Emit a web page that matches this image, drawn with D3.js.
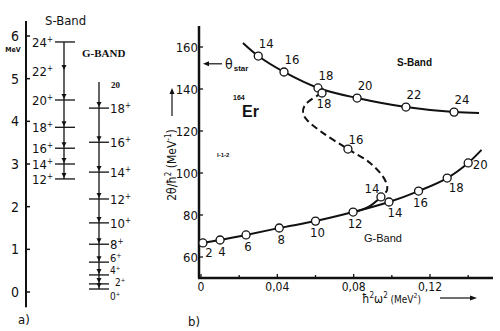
<!DOCTYPE html>
<html>
<head>
<meta charset="utf-8">
<script src="https://cdn.jsdelivr.net/npm/d3@7/dist/d3.min.js"></script>
<style>
  body { margin: 0; background: #fff; }
  svg { display: block; }
  text { fill: #111; }
</style>
</head>
<body>
<div id="chart"></div>
<script>
// ---- panel a) level scheme (MeV) ----
const sSpins = [24, 22, 20, 18, 16, 14, 12]
const sEnergies = [5.86, 5.18, 4.50, 3.86, 3.37, 3.00, 2.65]
const gSpins = [18, 16, 14, 12, 10, 8, 6, 4, 2, 0]
const gEnergies = [4.31, 3.51, 2.81, 2.18, 1.62, 1.12, 0.70, 0.40, 0.19, 0.07]
const gTopEnergy = 4.92
const energyTicks = [0, 1, 2, 3, 4, 5, 6]

// ---- panel b) moment of inertia vs rotational frequency ----
const gOmega = [0.001, 0.010, 0.0236, 0.041, 0.060, 0.0797, 0.0985, 0.114, 0.129, 0.140, 0.147]
const gTheta = [66.7, 68.1, 70.5, 73.8, 77.1, 81.4, 86.2, 91.4, 97.6, 104.8, 111]
const gLabels = ['2', '4', '6', '8', '10', '12', '14', '16', '18', '20', null]

const sOmega = [0.022, 0.030, 0.0435, 0.0613, 0.0818, 0.1074, 0.1326, 0.1457]
const sTheta = [161.9, 155.7, 148.1, 140.5, 135.7, 131.4, 129.0, 128.6]
const sLabels = [null, '14', '16', '18', '20', '22', '24', null]

// back-bending branch (dashed)
const bendOmega = [0.0634, 0.0545, 0.0535, 0.0556, 0.064, 0.077, 0.0886, 0.0964, 0.0975, 0.0943]
const bendTheta = [138.1, 132.4, 128.5, 125.2, 119.0, 111.4, 104.8, 96.7, 91.9, 88.6]
const bendPoints = [
  { omega: 0.0634, theta: 138.1, label: '18' },
  { omega: 0.077, theta: 111.4, label: '16' },
  { omega: 0.0943, theta: 88.6, label: '14' }
]
// short solid piece from the second 14 into the G-band
const joinOmega = [0.0943, 0.088, 0.080]
const joinTheta = [88.6, 84.0, 81.2]

const thetaTicks = [60, 80, 100, 120, 140, 160]
const omegaTicks = [0, 0.04, 0.08, 0.12]
const omegaMinor = [0.02, 0.06, 0.10, 0.14]
const thetaStar = 152

const W = 500
const H = 331
const font = "'DejaVu Sans Condensed', 'Liberation Sans Narrow', sans-serif"

const svg = d3
  .select('#chart')
  .append('svg')
  .attr('width', W)
  .attr('height', H)
  .style('font-family', font)

// ================= panel a =================
const eScale = d3.scaleLinear().domain([0, 6]).range([292, 36])
const axisX = 26
const sX = 64
const gX = 99

svg
  .append('line')
  .attr('x1', axisX)
  .attr('x2', axisX)
  .attr('y1', eScale(6.35))
  .attr('y2', eScale(-0.36))
  .attr('stroke', '#111')
  .attr('stroke-width', 2)

energyTicks.forEach(e => {
  svg
    .append('line')
    .attr('x1', axisX)
    .attr('x2', axisX + 4)
    .attr('y1', eScale(e))
    .attr('y2', eScale(e))
    .attr('stroke', '#111')
    .attr('stroke-width', 1.5)
  svg
    .append('text')
    .text(e)
    .attr('x', 15)
    .attr('y', eScale(e) + 5)
    .attr('text-anchor', 'middle')
    .style('font-size', '14px')
})

svg
  .append('text')
  .text('MeV')
  .attr('x', 13)
  .attr('y', 52)
  .attr('text-anchor', 'middle')
  .style('font-size', '7px')
  .style('font-weight', 'bold')

svg
  .append('text')
  .text('S-Band')
  .attr('x', 45)
  .attr('y', 25)
  .style('font-size', '13px')

svg
  .append('text')
  .text('G-BAND')
  .attr('x', 82)
  .attr('y', 57)
  .style('font-family', "'Liberation Serif', serif")
  .style('font-weight', 'bold')
  .style('font-size', '11px')

svg
  .append('text')
  .text('20')
  .attr('x', 111)
  .attr('y', 88)
  .style('font-family', "'Liberation Serif', serif")
  .style('font-weight', 'bold')
  .style('font-size', '9px')

function arrowDown(x, y) {
  svg
    .append('path')
    .attr('d', `M${x - 2.5},${y - 6} L${x + 2.5},${y - 6} L${x},${y - 1} Z`)
    .attr('fill', '#111')
}

function spinLabel(x, y, spin, anchor, size) {
  const t = svg
    .append('text')
    .attr('x', x)
    .attr('y', y)
    .attr('text-anchor', anchor)
    .style('font-size', size + 'px')
  t.append('tspan').text(spin)
  t.append('tspan')
    .text('+')
    .attr('dy', -size * 0.4)
    .style('font-size', Math.round(size * 0.6) + 'px')
}

// S band
svg
  .append('line')
  .attr('x1', sX)
  .attr('x2', sX)
  .attr('y1', eScale(sEnergies[0]))
  .attr('y2', eScale(sEnergies[sEnergies.length - 1]))
  .attr('stroke', '#111')
  .attr('stroke-width', 1.3)

sSpins.forEach((spin, i) => {
  const y = eScale(sEnergies[i])
  if (spin !== 22) {
    svg
      .append('line')
      .attr('x1', 55)
      .attr('x2', 75)
      .attr('y1', y)
      .attr('y2', y)
      .attr('stroke', '#111')
      .attr('stroke-width', 1.3)
  }
  if (i > 0) arrowDown(sX, y)
  spinLabel(53, y + 5, spin, 'end', 13)
})

// G band
svg
  .append('line')
  .attr('x1', gX)
  .attr('x2', gX)
  .attr('y1', eScale(gTopEnergy))
  .attr('y2', eScale(gEnergies[gEnergies.length - 1]))
  .attr('stroke', '#111')
  .attr('stroke-width', 1.3)

// low-lying labels are squeezed together as in the original figure
const gLabelPlace = { 6: [110, 0, 11], 4: [110, -1, 10], 2: [115, 2, 10], 0: [110, 11, 10] }
gSpins.forEach((spin, i) => {
  const y = eScale(gEnergies[i])
  svg
    .append('line')
    .attr('x1', 89)
    .attr('x2', 109)
    .attr('y1', y)
    .attr('y2', y)
    .attr('stroke', '#111')
    .attr('stroke-width', 1.3)
  arrowDown(gX, y)
  const p = gLabelPlace[spin] || [110, 5, 13]
  spinLabel(p[0], y + p[1], spin, 'start', p[2])
})

svg
  .append('text')
  .text('a)')
  .attr('x', 18)
  .attr('y', 324)
  .style('font-size', '13px')

// ================= panel b =================
const x = d3.scaleLinear().domain([0, 0.12]).range([201, 430])
const y = d3.scaleLinear().domain([60, 160]).range([257, 47])
const x0 = 199
const yBottom = y(50)

svg
  .append('line')
  .attr('x1', x0)
  .attr('x2', x0)
  .attr('y1', y(170))
  .attr('y2', yBottom)
  .attr('stroke', '#111')
  .attr('stroke-width', 2.5)

svg
  .append('line')
  .attr('x1', x0 - 1)
  .attr('x2', x(0.153))
  .attr('y1', yBottom)
  .attr('y2', yBottom)
  .attr('stroke', '#111')
  .attr('stroke-width', 2.5)

thetaTicks.forEach(t => {
  svg
    .append('line')
    .attr('x1', x0)
    .attr('x2', x0 + 4)
    .attr('y1', y(t))
    .attr('y2', y(t))
    .attr('stroke', '#111')
    .attr('stroke-width', 1.3)
  svg
    .append('text')
    .text(t)
    .attr('x', x0 - 1)
    .attr('y', y(t) + 5)
    .attr('text-anchor', 'end')
    .style('font-size', '13px')
})

omegaTicks.forEach(o => {
  svg
    .append('line')
    .attr('x1', x(o))
    .attr('x2', x(o))
    .attr('y1', yBottom)
    .attr('y2', yBottom - 4)
    .attr('stroke', '#111')
    .attr('stroke-width', 1.3)
  svg
    .append('text')
    .text(o === 0 ? '0' : d3.format('.2f')(o).replace('.', ','))
    .attr('x', x(o))
    .attr('y', yBottom + 13)
    .attr('text-anchor', 'middle')
    .style('font-size', '12px')
})

omegaMinor.forEach(o => {
  svg
    .append('line')
    .attr('x1', x(o))
    .attr('x2', x(o))
    .attr('y1', yBottom)
    .attr('y2', yBottom - 3)
    .attr('stroke', '#111')
    .attr('stroke-width', 1.3)
})

const line = d3
  .line()
  .x(d => x(d[0]))
  .y(d => y(d[1]))
  .curve(d3.curveCatmullRom)

svg
  .append('path')
  .attr('d', line(gOmega.map((o, i) => [o, gTheta[i]])))
  .attr('fill', 'none')
  .attr('stroke', '#111')
  .attr('stroke-width', 2)

svg
  .append('path')
  .attr('d', line(sOmega.map((o, i) => [o, sTheta[i]])))
  .attr('fill', 'none')
  .attr('stroke', '#111')
  .attr('stroke-width', 2)

svg
  .append('path')
  .attr('d', line(bendOmega.map((o, i) => [o, bendTheta[i]])))
  .attr('fill', 'none')
  .attr('stroke', '#111')
  .attr('stroke-width', 2)
  .attr('stroke-dasharray', '7,4')

svg
  .append('path')
  .attr('d', line(joinOmega.map((o, i) => [o, joinTheta[i]])))
  .attr('fill', 'none')
  .attr('stroke', '#111')
  .attr('stroke-width', 2)

function points(data, offsets) {
  data.forEach((d, i) => {
    if (d.label === null) return
    svg
      .append('circle')
      .attr('cx', x(d.omega))
      .attr('cy', y(d.theta))
      .attr('r', 4)
      .attr('fill', '#fff')
      .attr('stroke', '#111')
      .attr('stroke-width', 1.3)
    const off = offsets(d, i)
    svg
      .append('text')
      .text(d.label)
      .attr('x', x(d.omega) + off[0])
      .attr('y', y(d.theta) + off[1])
      .attr('text-anchor', 'middle')
      .style('font-size', '13px')
  })
}

points(
  gOmega.map((o, i) => ({ omega: o, theta: gTheta[i], label: gLabels[i] })),
  d => {
    if (d.label === '2') return [6, 14]
    if (d.label === '20') return [12, 6]
    if (d.label === '18') return [9, 14]
    if (d.label === '14') return [6, 15]
    return [2, 16]
  }
)

points(
  sOmega.map((o, i) => ({ omega: o, theta: sTheta[i], label: sLabels[i] })),
  () => [8, -8]
)

points(bendPoints, d => {
  if (d.label === '18') return [2, 15]
  if (d.label === '16') return [8, -5]
  return [-9, -4]
})

// band names and annotations
svg
  .append('text')
  .text('S-Band')
  .attr('x', 397)
  .attr('y', 66)
  .style('font-family', "'Liberation Sans', Arial, sans-serif")
  .style('font-weight', 'bold')
  .style('font-size', '10px')

svg
  .append('text')
  .text('G-Band')
  .attr('x', 364)
  .attr('y', 242)
  .style('font-family', "'Liberation Sans', Arial, sans-serif")
  .style('font-size', '11px')

svg
  .append('text')
  .text('164')
  .attr('x', 233)
  .attr('y', 100)
  .style('font-family', "'Liberation Sans', Arial, sans-serif")
  .style('font-weight', 'bold')
  .style('font-size', '7px')

svg
  .append('text')
  .text('Er')
  .attr('x', 242)
  .attr('y', 117)
  .style('font-family', "'Liberation Sans', Arial, sans-serif")
  .style('font-weight', 'bold')
  .style('font-size', '16px')

svg
  .append('text')
  .text('I-1-2')
  .attr('x', 217)
  .attr('y', 157)
  .style('font-family', "'Liberation Sans', Arial, sans-serif")
  .style('font-weight', 'bold')
  .style('font-size', '6px')

// theta_star marker
svg
  .append('line')
  .attr('x1', 222)
  .attr('x2', 206)
  .attr('y1', y(thetaStar))
  .attr('y2', y(thetaStar))
  .attr('stroke', '#111')
  .attr('stroke-width', 1.2)
svg
  .append('path')
  .attr('d', `M203,${y(thetaStar)} l6,-2.5 l0,5 Z`)
  .attr('fill', '#111')
const ts = svg
  .append('text')
  .attr('x', 225)
  .attr('y', y(thetaStar) + 5)
  .style('font-size', '14px')
ts.append('tspan').text('θ')
ts.append('tspan')
  .text('star')
  .attr('dy', 2)
  .attr('dx', 1)
  .style('font-size', '8px')
  .style('font-weight', 'bold')
  .style('font-family', "'Liberation Sans', Arial, sans-serif")

// y axis title with arrow
const yt = svg
  .append('text')
  .attr('transform', 'translate(176,165) rotate(-90)')
  .attr('text-anchor', 'middle')
  .style('font-size', '12px')
yt.append('tspan').text('2θ/ħ')
yt.append('tspan').text('2').attr('dy', -5).style('font-size', '8px')
yt.append('tspan').text(' (MeV').attr('dy', 5)
yt.append('tspan').text('-1').attr('dy', -5).style('font-size', '8px')
yt.append('tspan').text(')').attr('dy', 5)

svg
  .append('line')
  .attr('x1', 172)
  .attr('x2', 172)
  .attr('y1', 116)
  .attr('y2', 92)
  .attr('stroke', '#111')
  .attr('stroke-width', 1.2)
svg
  .append('path')
  .attr('d', 'M172,88 l-2.5,6 l5,0 Z')
  .attr('fill', '#111')

// x axis title with arrow
const xt = svg
  .append('text')
  .attr('x', 362)
  .attr('y', 303)
  .style('font-size', '12px')
xt.append('tspan').text('ħ')
xt.append('tspan').text('2').attr('dy', -5).style('font-size', '8px')
xt.append('tspan').text('ω').attr('dy', 5)
xt.append('tspan').text('2').attr('dy', -5).style('font-size', '8px')
xt.append('tspan').text(' (MeV').attr('dy', 5).style('font-size', '10px')
xt.append('tspan').text('2').attr('dy', -5).style('font-size', '7px')
xt.append('tspan').text(')').attr('dy', 5).style('font-size', '10px')

svg
  .append('line')
  .attr('x1', 440)
  .attr('x2', 472)
  .attr('y1', 298)
  .attr('y2', 298)
  .attr('stroke', '#111')
  .attr('stroke-width', 1.2)
svg
  .append('path')
  .attr('d', 'M477,298 l-7,-2.5 l0,5 Z')
  .attr('fill', '#111')

svg
  .append('text')
  .text('b)')
  .attr('x', 188)
  .attr('y', 326)
  .style('font-size', '13px')
</script>
</body>
</html>
